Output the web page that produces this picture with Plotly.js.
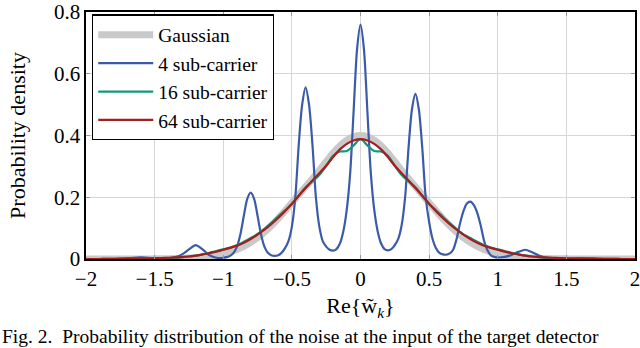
<!DOCTYPE html>
<html>
<head>
<meta charset="utf-8">
<script src="https://cdn.plot.ly/plotly-3.0.1.min.js"></script>
<style>html,body{margin:0;padding:0;background:#fff;}#chart{width:640px;height:348px;}</style>
</head>
<body>
<div id="chart"></div>
<script>
// Shared x grid (step 0.05) for Gaussian / 16 / 64 sub-carrier curves
const xGrid = [-2.0,-1.95,-1.9,-1.85,-1.8,-1.75,-1.7,-1.65,-1.6,-1.55,-1.5,-1.45,-1.4,-1.35,-1.3,-1.25,-1.2,-1.15,-1.1,-1.05,
  -1.0,-0.95,-0.9,-0.85,-0.8,-0.75,-0.7,-0.65,-0.6,-0.55,-0.5,-0.45,-0.4,-0.35,-0.3,-0.25,-0.2,-0.15,-0.1,-0.05,
  0.0,0.05,0.1,0.15,0.2,0.25,0.3,0.35,0.4,0.45,0.5,0.55,0.6,0.65,0.7,0.75,0.8,0.85,0.9,0.95,
  1.0,1.05,1.1,1.15,1.2,1.25,1.3,1.35,1.4,1.45,1.5,1.55,1.6,1.65,1.7,1.75,1.8,1.85,1.9,1.95,2.0];

const gaussian = [0,0,0,0,0,0,0,0,0,0,0.0005,0.001,0.001,0.0015,0.002,0.003,0.004,0.006,0.009,0.012,
  0.017,0.023,0.031,0.041,0.054,0.069,0.087,0.108,0.131,0.156,0.182,0.208,0.234,0.26,0.287,0.315,0.343,0.367,0.385,0.396,
  0.400,0.396,0.385,0.367,0.343,0.315,0.287,0.26,0.234,0.208,0.182,0.156,0.131,0.108,0.087,0.069,0.054,0.041,0.031,0.023,
  0.017,0.012,0.009,0.006,0.004,0.003,0.002,0.0015,0.001,0.001,0.0005,0,0,0,0,0,0,0,0,0,0];

const sub16 = [0,0,0,0.0005,0.0005,0.001,0.001,0.001,0.0015,0.0015,0.002,0.002,0.003,0.004,0.006,0.008,0.011,0.015,0.02,0.026,
  0.031,0.037,0.045,0.056,0.068,0.081,0.098,0.117,0.138,0.158,0.178,0.205,0.232,0.252,0.272,0.302,0.334,0.348,0.35,0.368,
  0.388,0.368,0.35,0.348,0.334,0.302,0.272,0.252,0.232,0.205,0.178,0.158,0.137,0.116,0.097,0.08,0.068,0.056,0.045,0.037,
  0.031,0.026,0.02,0.015,0.011,0.008,0.006,0.004,0.003,0.002,0.002,0.0015,0.0015,0.001,0.001,0.001,0.0005,0.0005,0,0,0];

const sub64 = [0,0,0,0.0005,0.0005,0.0005,0.001,0.001,0.001,0.0015,0.002,0.003,0.004,0.005,0.006,0.008,0.011,0.015,0.019,0.024,
  0.03,0.036,0.043,0.053,0.065,0.079,0.095,0.113,0.133,0.155,0.179,0.205,0.23,0.254,0.278,0.302,0.33,0.355,0.373,0.384,
  0.388,0.384,0.373,0.355,0.33,0.302,0.278,0.254,0.23,0.205,0.179,0.155,0.133,0.113,0.095,0.079,0.065,0.053,0.043,0.036,
  0.03,0.024,0.019,0.015,0.011,0.008,0.006,0.005,0.004,0.003,0.002,0.0015,0.001,0.001,0.001,0.0005,0.0005,0.0005,0,0,0];

// 4 sub-carrier: finer sampling (0.025) in the middle
const x4 = [-2.0,-1.95,-1.9,-1.85,-1.8,-1.75,-1.7,-1.65,-1.6,-1.55,-1.5,-1.45,-1.4,-1.35,-1.3,-1.25,-1.2,-1.15,-1.1,-1.05,
  -1.0,-0.975,-0.95,-0.925,-0.9,-0.875,-0.85,-0.825,-0.8,-0.775,-0.75,-0.725,-0.7,-0.675,-0.65,-0.625,-0.6,-0.575,-0.55,-0.525,
  -0.5,-0.475,-0.45,-0.425,-0.4,-0.375,-0.35,-0.325,-0.3,-0.275,-0.25,-0.225,-0.2,-0.175,-0.15,-0.125,-0.1,-0.075,-0.05,-0.025,
  0.0,0.025,0.05,0.075,0.1,0.125,0.15,0.175,0.2,0.225,0.25,0.275,0.3,0.325,0.35,0.375,0.4,0.425,0.45,0.475,
  0.5,0.525,0.55,0.575,0.6,0.625,0.65,0.675,0.7,0.725,0.75,0.775,0.8,0.825,0.85,0.875,0.9,0.925,0.95,0.975,
  1.0,1.05,1.1,1.15,1.2,1.25,1.3,1.35,1.4,1.45,1.5,1.55,1.6,1.65,1.7,1.75,1.8,1.85,1.9,1.95,2.0];
const sub4 = [0,0,0,0,0,0.001,0.002,0.004,0.005,0.004,0.002,0.001,0.002,0.006,0.015,0.031,0.045,0.031,0.012,0.004,
  0.004,0.006,0.01,0.02,0.04,0.08,0.14,0.195,0.215,0.195,0.14,0.08,0.04,0.02,0.012,0.01,0.012,0.02,0.035,0.058,
  0.105,0.2,0.37,0.5,0.556,0.5,0.37,0.2,0.105,0.058,0.04,0.03,0.027,0.032,0.05,0.09,0.16,0.28,0.48,0.68,
  0.759,0.68,0.48,0.28,0.16,0.09,0.05,0.032,0.028,0.032,0.045,0.065,0.11,0.2,0.36,0.485,0.535,0.485,0.36,0.2,
  0.12,0.065,0.035,0.02,0.015,0.014,0.018,0.03,0.065,0.115,0.155,0.18,0.186,0.175,0.15,0.11,0.06,0.028,0.012,0.007,
  0.005,0.007,0.013,0.023,0.03,0.022,0.011,0.004,0.002,0.001,0.001,0.002,0.003,0.002,0.001,0,0,0,0,0,0];

const names = ['Gaussian','4 sub-carrier','16 sub-carrier','64 sub-carrier'];
const xTicks = [-2,-1.5,-1,-0.5,0,0.5,1,1.5,2];
const xTickText = ['\u22122','\u22121.5','\u22121','\u22120.5','0','0.5','1','1.5','2'];
const yTicks = [0,0.2,0.4,0.6,0.8];
const yTickText = ['0','0.2','0.4','0.6','0.8'];

const FONT = 'Liberation Serif';

const traces = [
  {x: xGrid, y: gaussian, name: names[0], mode: 'lines', line: {color: '#c9c9c9', width: 7, shape: 'spline', smoothing: 1}},
  {x: x4, y: sub4, name: names[1], mode: 'lines', line: {color: '#3b5ba9', width: 2.2, shape: 'spline', smoothing: 0.8}},
  {x: xGrid, y: sub16, name: names[2], mode: 'lines', line: {color: '#0f9a7c', width: 2.2, shape: 'spline', smoothing: 1}},
  {x: xGrid, y: sub64, name: names[3], mode: 'lines', line: {color: '#a51d1d', width: 2.2, shape: 'spline', smoothing: 1}}
];

const axisCommon = {
  showline: true, linecolor: '#000', linewidth: 1.6, mirror: 'ticks',
  ticks: 'inside', ticklen: 4, tickcolor: '#999', tickwidth: 1,
  showgrid: true, gridcolor: '#d6d6d6', gridwidth: 1, zeroline: false,
  ticklabeloverflow: 'allow',
  tickfont: {family: FONT, size: 21, color: '#000'}
};

const layout = {
  width: 640, height: 348,
  margin: {l: 86, r: 5, t: 12, b: 89},
  paper_bgcolor: '#fff', plot_bgcolor: '#fff',
  font: {family: FONT, color: '#000'},
  showlegend: true,
  legend: {x: 0.011, y: 0.99, xanchor: 'left', yanchor: 'top',
    bgcolor: '#fff', bordercolor: '#000', borderwidth: 1.2,
    font: {family: FONT, size: 19.5, color: '#000'}, itemwidth: 55},
  xaxis: Object.assign({}, axisCommon, {
    range: [-2, 2], tickmode: 'array', tickvals: xTicks, ticktext: xTickText,
    title: {text: 'Re{w\u0303<sub><i>k</i></sub>}', font: {family: FONT, size: 22}, standoff: 8}
  }),
  yaxis: Object.assign({}, axisCommon, {
    range: [0, 0.8], tickmode: 'array', tickvals: yTicks, ticktext: yTickText,
    title: {text: 'Probability density', font: {family: FONT, size: 22}, standoff: 22}
  }),
  annotations: [{
    xref: 'paper', yref: 'paper', x: -0.157, y: -0.312, xanchor: 'left', yanchor: 'middle',
    text: 'Fig. 2.  Probability distribution of the noise at the input of the target detector',
    showarrow: false, font: {family: FONT, size: 19.5, color: '#000'}
  }]
};

Plotly.newPlot('chart', traces, layout, {displayModeBar: false, staticPlot: true});
</script>
</body>
</html>
